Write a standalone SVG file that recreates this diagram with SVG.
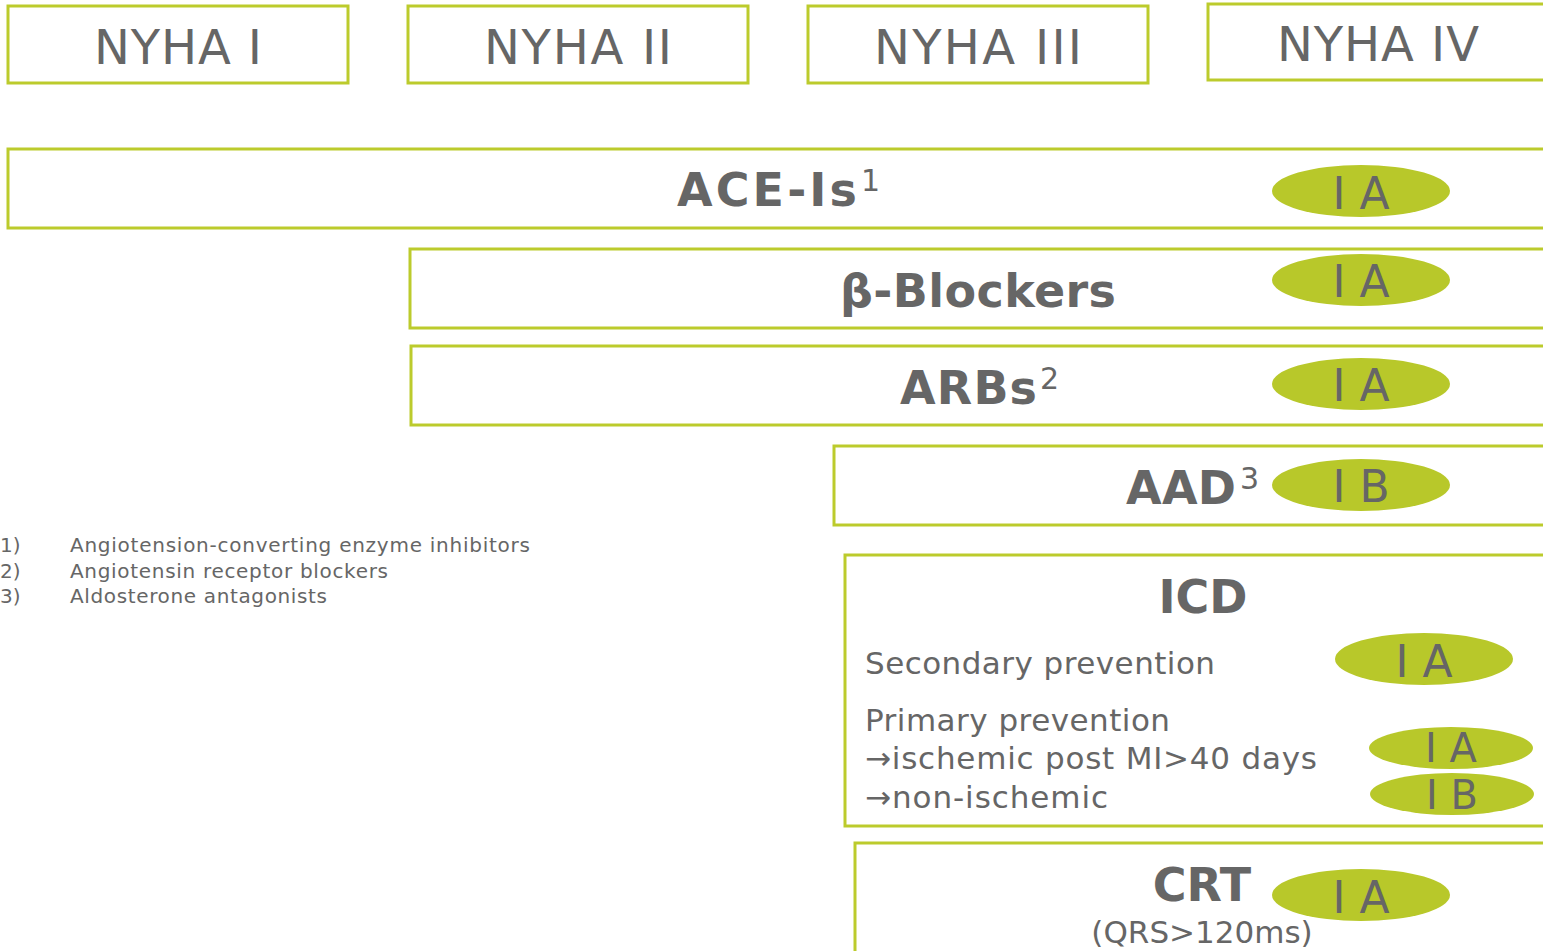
<svg xmlns="http://www.w3.org/2000/svg" width="1543" height="951" viewBox="0 0 1543 951">
<style>
.box{fill:#fff;stroke:#bccb2c;stroke-width:3}
.pill{fill:#b8c82a}
.t{font-family:"DejaVu Sans","Verdana",sans-serif;fill:#666}
.hd{font-size:48px;text-anchor:middle}
.b{font-weight:bold;font-size:46px}
.lv{font-size:44px;text-anchor:middle}
.lv2{font-size:40px;text-anchor:middle}
.fn{font-size:20px}
.sm{font-size:31px}
.sup{font-size:30px}
</style>
<rect width="1543" height="951" fill="#fff"/>
<g id="nyha1"><rect class="box" x="8" y="6" width="340" height="77"/><text class="t hd" x="178" y="64" textLength="168">NYHA I</text></g>
<g id="nyha2"><rect class="box" x="408" y="6" width="340" height="77"/><text class="t hd" x="578" y="64" textLength="188">NYHA II</text></g>
<g id="nyha3"><rect class="box" x="808" y="6" width="340" height="77"/><text class="t hd" x="978" y="64" textLength="208">NYHA III</text></g>
<g id="nyha4"><rect class="box" x="1208" y="4" width="360" height="76"/><text class="t hd" x="1378" y="61" textLength="202">NYHA IV</text></g>

<g id="ace"><rect class="box" x="8" y="149" width="1560" height="79"/>
<text class="t b" x="677" y="206" textLength="180">ACE-Is</text><text class="t sup" x="861" y="191">1</text>
<ellipse class="pill" cx="1361" cy="191" rx="89" ry="26"/><text class="t lv" x="1361" y="209">I A</text></g>

<g id="beta"><rect class="box" x="410" y="249" width="1160" height="79"/>
<text class="t b" x="840" y="307" textLength="276">β-Blockers</text>
<ellipse class="pill" cx="1361" cy="280" rx="89" ry="26"/><text class="t lv" x="1361" y="297">I A</text></g>

<g id="arb"><rect class="box" x="411" y="346" width="1160" height="79"/>
<text class="t b" x="900" y="404" textLength="137">ARBs</text><text class="t sup" x="1040" y="389">2</text>
<ellipse class="pill" cx="1361" cy="384" rx="89" ry="26"/><text class="t lv" x="1361" y="401">I A</text></g>

<g id="aad"><rect class="box" x="834" y="446" width="740" height="79"/>
<text class="t b" x="1126" y="504" textLength="110">AAD</text><text class="t sup" x="1240" y="489">3</text>
<ellipse class="pill" cx="1361" cy="485" rx="89" ry="26"/><text class="t lv" x="1361" y="502">I B</text></g>

<g id="footnotes">
<text class="t fn" x="0" y="552">1)</text><text class="t fn" x="70" y="552" textLength="460">Angiotension-converting enzyme inhibitors</text>
<text class="t fn" x="0" y="578">2)</text><text class="t fn" x="70" y="578" textLength="318">Angiotensin receptor blockers</text>
<text class="t fn" x="0" y="603">3)</text><text class="t fn" x="70" y="603" textLength="257">Aldosterone antagonists</text>
</g>

<g id="icd"><rect class="box" x="845" y="555" width="730" height="271"/>
<text class="t b" x="1203" y="613" text-anchor="middle">ICD</text>
<text class="t sm" x="865" y="674" textLength="350">Secondary prevention</text>
<ellipse class="pill" cx="1424" cy="659" rx="89" ry="26"/><text class="t lv" x="1424" y="677">I A</text>
<text class="t sm" x="865" y="731" textLength="305">Primary prevention</text>
<text class="t sm" x="865" y="769" textLength="452">→ischemic post MI&gt;40 days</text>
<text class="t sm" x="865" y="808" textLength="243">→non-ischemic</text>
<ellipse class="pill" cx="1451" cy="748" rx="82" ry="21"/><text class="t lv2" x="1451" y="762">I A</text>
<ellipse class="pill" cx="1452" cy="794" rx="82" ry="21"/><text class="t lv2" x="1452" y="809">I B</text>
</g>

<g id="crt"><rect class="box" x="855" y="843" width="720" height="140"/>
<text class="t b" x="1202" y="901" text-anchor="middle">CRT</text>
<ellipse class="pill" cx="1361" cy="895" rx="89" ry="26"/><text class="t lv" x="1361" y="913">I A</text>
<text class="t sm" x="1202" y="943" text-anchor="middle">(QRS&gt;120ms)</text>
</g>
<g id="connectors"/>
</svg>
